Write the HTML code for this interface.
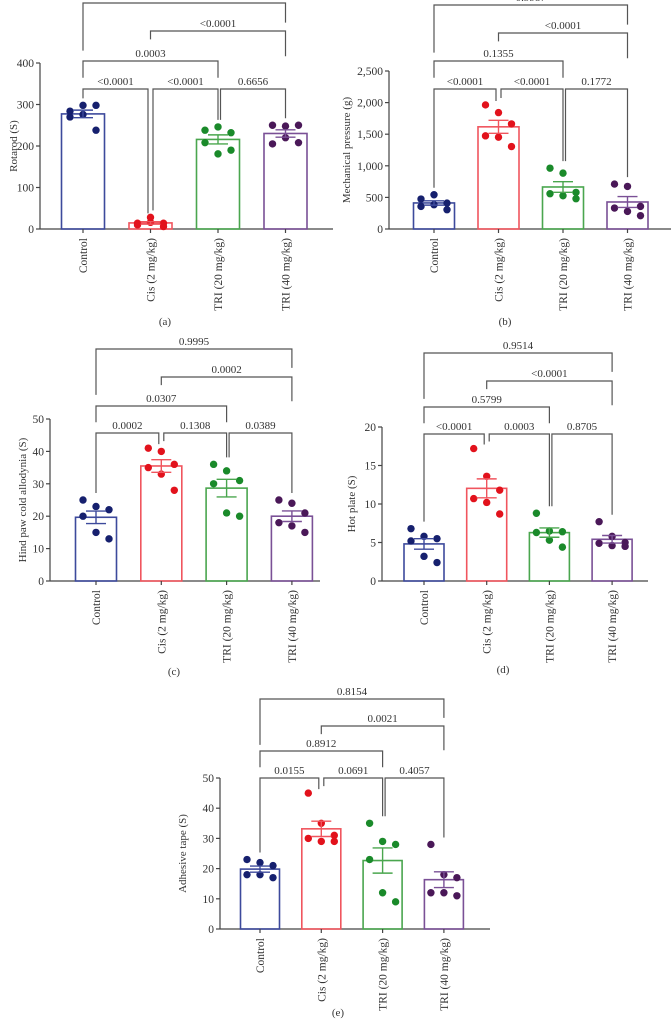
<!DOCTYPE html>
<html><head><meta charset="utf-8"><style>
html,body{margin:0;padding:0;background:#fff;}
svg{display:block;font-family:"Liberation Serif",serif;}
</style></head><body>
<svg id="fig" width="671" height="1026" viewBox="0 0 671 1026"></svg>
<script>
const categories = ["Control","Cis (2 mg/kg)","TRI (20 mg/kg)","TRI (40 mg/kg)"];

const rotarodControl = [284,298,298,270,276,238];
const rotarodCis = [10,16,14,14,28,6];
const rotarodTri20 = [238,246,232,208,181,190];
const rotarodTri40 = [250,248,250,205,220,208];
const rotarodTicks = [0,100,200,300,400];
const rotarodP = ["<0.0001","<0.0001","0.6656","0.0003","<0.0001",""];

const mechControl = [474,542,410,358,384,305];
const mechCis = [1963,1842,1663,1474,1453,1305];
const mechTri20 = [963,884,579,558,526,479];
const mechTri40 = [711,674,358,332,279,211];
const mechTicks = [0,500,1000,1500,2000,2500];
const mechTickLabels = ["0","500","1,000","1,500","2,000","2,500"];
const mechP = ["<0.0001","<0.0001","0.1772","0.1355","<0.0001","0.9987"];

const coldControl = [25,23,22,20,15,13];
const coldCis = [41,40,36,35,33,28];
const coldTri20 = [36,34,31,30,21,20];
const coldTri40 = [25,24,21,18,17,15];
const coldTicks = [0,10,20,30,40,50];
const coldP = ["0.0002","0.1308","0.0389","0.0307","0.0002","0.9995"];

const hotControl = [6.8,5.8,5.5,5.2,3.2,2.4];
const hotCis = [17.2,13.6,11.8,10.7,10.2,8.7];
const hotTri20 = [8.8,6.5,6.4,6.3,5.3,4.4];
const hotTri40 = [7.7,5.8,5.0,4.9,4.6,4.5];
const hotTicks = [0,5,10,15,20];
const hotP = ["<0.0001","0.0003","0.8705","0.5799","<0.0001","0.9514"];

const tapeControl = [23,22,21,18,18,17];
const tapeCis = [45,35,31,30,29,29];
const tapeTri20 = [35,29,28,23,12,9];
const tapeTri40 = [28,18,17,12,12,11];
const tapeTicks = [0,10,20,30,40,50];
const tapeP = ["0.0155","0.0691","0.4057","0.8912","0.0021","0.8154"];

const pairs = [[0,1],[1,2],[2,3],[0,2],[1,3],[0,3]];
const pairLevel = [0,0,0,1,2,3];

const dotColors = ["#16206e","#e2121c","#1a8a2a","#4a1858"];
const barColors = ["#3d4a9c","#f0555e","#4aa64e","#7a5096"];
const jitter = [-13,0,13,-13,0,13];

const NS = "http://www.w3.org/2000/svg";
const svg = document.getElementById("fig");
function mk(tag, attrs, parent){
  const e = document.createElementNS(NS, tag);
  for (const k in attrs) e.setAttribute(k, attrs[k]);
  (parent||svg).appendChild(e);
  return e;
}
function mean(a){return a.reduce((s,v)=>s+v,0)/a.length;}
function sem(a){const m=mean(a);const sd=Math.sqrt(a.reduce((s,v)=>s+(v-m)*(v-m),0)/(a.length-1));return sd/Math.sqrt(a.length);}

function panel(cfg){
  const g = mk("g",{});
  
  
  const ymax = cfg.ticks[cfg.ticks.length-1];
  const y = v => cfg.y0 - (v/ymax)*(cfg.y0-cfg.yTop);
  const cx = i => cfg.x0 + cfg.pad + cfg.step*i;
  // axes
  const ax = mk("line",{x1:cfg.x0,y1:cfg.y0,x2:cfg.x1,y2:cfg.y0,stroke:"#444","stroke-width":1.2},g);
  
  
  const ay = mk("line",{x1:cfg.x0,y1:cfg.y0,x2:cfg.x0,y2:cfg.yTop,stroke:"#444","stroke-width":1.2},g);
  
  
  cfg.ticks.forEach((t,k)=>{
    mk("line",{x1:cfg.x0-4,y1:y(t),x2:cfg.x0,y2:y(t),stroke:"#444","stroke-width":1.2},g);
    const tl = mk("text",{x:cfg.x0-6,y:y(t)+4,"text-anchor":"end","font-size":11.5,fill:"#333"},g);
    tl.textContent = cfg.tickLabels ? cfg.tickLabels[k] : String(t);
    
    
  });
  // y title
  const ym = (cfg.y0+cfg.yTop)/2;
  const yt = mk("text",{x:cfg.titleX,y:ym,"text-anchor":"middle","font-size":11,fill:"#333",transform:`rotate(-90 ${cfg.titleX} ${ym})`},g);
  yt.textContent = cfg.title;
  
  
  // bars
  cfg.series.forEach((arr,i)=>{
    const m = mean(arr), s = sem(arr), c = cx(i);
    const b = mk("rect",{x:c-cfg.bw/2,y:y(m),width:cfg.bw,height:cfg.y0-y(m),fill:"none",stroke:barColors[i],"stroke-width":1.6},g);
    
    
    arr.forEach((v,k)=>{
      const d = mk("circle",{cx:c+jitter[k%jitter.length],cy:y(v),r:3.7,fill:dotColors[i]},g);
      
      
    });
    const ec = barColors[i];
    const eg = mk("g",{stroke:ec,"stroke-width":1.4},g);
    
    
    mk("line",{x1:c,y1:y(m+s),x2:c,y2:y(m-s)},eg);
    mk("line",{x1:c-10,y1:y(m+s),x2:c+10,y2:y(m+s)},eg);
    mk("line",{x1:c-10,y1:y(m-s),x2:c+10,y2:y(m-s)},eg);
    mk("line",{x1:c,y1:cfg.y0,x2:c,y2:cfg.y0+4,stroke:"#444","stroke-width":1.2},g);
    const xl = mk("text",{x:c+4,y:cfg.y0+9,"text-anchor":"end","font-size":11.5,fill:"#333",transform:`rotate(-90 ${c+4} ${cfg.y0+9})`},g);
    xl.textContent = categories[i];
    
    
  });
  // brackets
  const gap = cfg.levels[0]-cfg.levels[1];
  pairs.forEach((p,k)=>{
    const lv = pairLevel[k], ly = cfg.levels[lv];
    let xa = cx(p[0]), xb = cx(p[1]);
    let ya, yb;
    if (lv===0){
      if (p[0]>0) xa += 2.5;
      if (p[1]===1) xb -= 2.5;
      if (p[1]===2 && false) xb -= 2.5;
      ya = Math.min(y(Math.max(...cfg.series[p[0]])) - 7, ly+400);
      yb = y(Math.max(...cfg.series[p[1]])) - 7;
      if (p[0]===1) ya = yb = Math.max(ly+6, Math.min(ya, y(Math.max(...cfg.series[1]))-4));
      if (p[1]===1) yb = Math.max(ly+6, y(Math.max(...cfg.series[1]))-4);
      if (p[1]===2 && p[0]===1) yb = y(Math.max(...cfg.series[2]))-7;
    } else if (lv===3){ ya = ly+gap*1.7; yb = ly+gap*0.7; }
    else if (lv===2){ ya = ly+gap*0.3; yb = ly+gap*0.9; }
    else { ya = ly+gap*0.6; yb = ly+gap*0.6; }
    const br = mk("path",{d:`M${xa},${ya}V${ly}H${xb}V${yb}`,fill:"none",stroke:"#555","stroke-width":1.2},g);
    
    
    const pl = cfg.pvals[k];
    if (pl){
      const t = mk("text",{x:(xa+xb)/2,y:ly-4,"text-anchor":"middle","font-size":11,fill:"#333"},g);
      t.textContent = pl;
      
      
    }
  });
  const cap = mk("text",{x:cfg.capX,y:cfg.capY,"text-anchor":"middle","font-size":11,fill:"#333"},g);
  cap.textContent = cfg.cap;
  
  
}

panel({name:"panel-a-rotarod",x0:40,x1:333,y0:229,yTop:63,ticks:rotarodTicks,pad:43,step:67.5,bw:43,
  series:[rotarodControl,rotarodCis,rotarodTri20,rotarodTri40],title:"Rotarod (S)",titleX:17,
  levels:[89,61,31,3],pvals:rotarodP,cap:"(a)",capX:165,capY:325});
panel({name:"panel-b-mechanical",x0:389,x1:671,y0:229,yTop:71,ticks:mechTicks,tickLabels:mechTickLabels,pad:45,step:64.5,bw:41,
  series:[mechControl,mechCis,mechTri20,mechTri40],title:"Mechanical pressure (g)",titleX:350,
  levels:[89,61,33,5],pvals:mechP,cap:"(b)",capX:505,capY:325});
panel({name:"panel-c-cold-allodynia",x0:50,x1:320,y0:581,yTop:419,ticks:coldTicks,pad:46,step:65.3,bw:41,
  series:[coldControl,coldCis,coldTri20,coldTri40],title:"Hind paw cold allodynia (S)",titleX:26,
  levels:[433,406,377,349],pvals:coldP,cap:"(c)",capX:174,capY:675});
panel({name:"panel-d-hot-plate",x0:382,x1:648,y0:581,yTop:427,ticks:hotTicks,pad:42,step:62.7,bw:40,
  series:[hotControl,hotCis,hotTri20,hotTri40],title:"Hot plate (S)",titleX:355,
  levels:[434,407,381,353],pvals:hotP,cap:"(d)",capX:503,capY:673});
panel({name:"panel-e-adhesive-tape",x0:220,x1:490,y0:929,yTop:778,ticks:tapeTicks,pad:40,step:61.3,bw:39,
  series:[tapeControl,tapeCis,tapeTri20,tapeTri40],title:"Adhesive tape (S)",titleX:186,
  levels:[778,751,726,699],pvals:tapeP,cap:"(e)",capX:338,capY:1016});
</script>
</body></html>
